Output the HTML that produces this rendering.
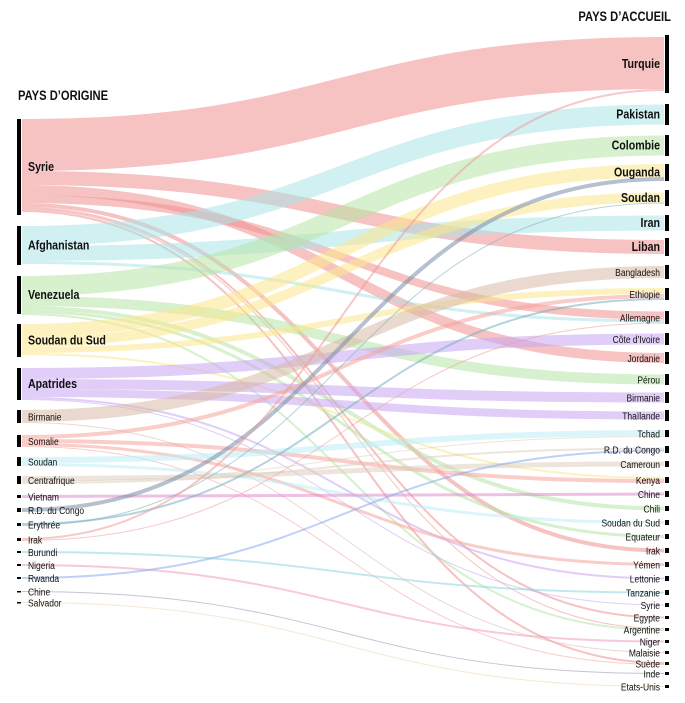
<!DOCTYPE html>
<html><head><meta charset="utf-8"><style>
body{margin:0;background:#fff;width:685px;height:698px;overflow:hidden}
svg text{font-family:"Liberation Sans Narrow","Liberation Sans",sans-serif;fill:#111}
</style></head><body>
<svg id="s" width="685" height="698" xmlns="http://www.w3.org/2000/svg">
<g id="links"></g><g id="nodes"></g>
<text transform="translate(18,100) scale(0.8,1)" font-size="14" font-weight="bold">PAYS D’ORIGINE</text>
<text transform="translate(671,21) scale(0.8,1)" font-size="14" font-weight="bold" text-anchor="end">PAYS D’ACCUEIL</text>
</svg>
<script>
const L={Syrie:[119,215,'#ef8f8f',1],Afghanistan:[226,265,'#a9e3e8',1],Venezuela:[276,314,'#b6e4a6',1],'Soudan du Sud':[324,357,'#fbe88a',1],Apatrides:[368,400,'#c9a6f2',1],Birmanie:[410,423,'#d8b9a6',0],Somalie:[435,447,'#f6a49c',0],Soudan:[457,466,'#bdeef5',0],Centrafrique:[476,484,'#dfcfbd',0],Vietnam:[495,498,'#de8cce',0],'R.D. du Congo':[508,512,'#7c8ca8',0],'Erythrée':[523,526,'#7aaebf',0],Irak:[538,541,'#f09a9a',0],Burundi:[551,553,'#8fd6e0',0],Nigeria:[564,566,'#f19dbd',0],Rwanda:[577,579,'#86aaf0',0],Chine:[591,592,'#9f90b0',0],Salvador:[602,603,'#efd6ae',0]};
const R={Turquie:[35,93,1],Pakistan:[104,125,1],Colombie:[135,156,1],Ouganda:[164,181,1],Soudan:[190,206,1],Iran:[215,231,1],Liban:[238,256,1],Bangladesh:[265,279],'Ethiopie':[288,300],Allemagne:[311,324],"Côte d'Ivoire":[333,345],Jordanie:[352,364],'Pérou':[374,385],Birmanie:[392,403],'Thaïlande':[410,421],Tchad:[430,437],'R.D. du Congo':[446,453],Cameroun:[461,467],Kenya:[477,483],Chine:[491,497],Chili:[506,511],'Soudan du Sud':[520,525],Equateur:[534,539],Irak:[548,553],'Yémen':[562,567],Lettonie:[576,581],Tanzanie:[590,595],Syrie:[603,607],Egypte:[616,619],Argentine:[628,631],Niger:[640,643],Malaisie:[651,654],'Suède':[662,665],Inde:[672,675],'Etats-Unis':[685,688]};
const links=[
['Syrie','Turquie',52],['Syrie','Liban',14],['Syrie','Jordanie',10],['Syrie','Allemagne',8],['Syrie','Irak',4],['Syrie','Egypte',2],['Syrie','Argentine',1],['Syrie','Suède',2],
['Afghanistan','Pakistan',20],['Afghanistan','Iran',15],['Afghanistan','Allemagne',3],
['Venezuela','Colombie',20],['Venezuela','Pérou',10],['Venezuela','Chili',4],['Venezuela','Equateur',3],['Venezuela','Argentine',2],
['Soudan du Sud','Ouganda',13],['Soudan du Sud','Soudan',10],['Soudan du Sud','Ethiopie',6],['Soudan du Sud','Kenya',2],
['Apatrides',"Côte d'Ivoire",11],['Apatrides','Birmanie',10],['Apatrides','Thaïlande',8],['Apatrides','Lettonie',2],['Apatrides','Syrie',1],
['Birmanie','Bangladesh',12],['Birmanie','Malaisie',1],
['Somalie','Ethiopie',4],['Somalie','Kenya',4],['Somalie','Yémen',3],['Somalie','Suède',1],
['Soudan','Tchad',6],['Soudan','Soudan du Sud',3],
['Centrafrique','Cameroun',5],['Centrafrique','Tchad',1],['Centrafrique','R.D. du Congo',2],
['Vietnam','Chine',3],['R.D. du Congo','Ouganda',4],['Erythrée','Ethiopie',2],['Erythrée','Soudan',1],
['Irak','Turquie',2],['Irak','Allemagne',1],['Burundi','Tanzanie',2],['Nigeria','Niger',2],['Rwanda','R.D. du Congo',2],['Chine','Inde',1],['Salvador','Etats-Unis',1]];
const so={},to={};
for(const k in L)so[k]=L[k][0];
const tin={};links.forEach(l=>tin[l[1]]=(tin[l[1]]||0)+l[2]);
for(const k in R){const h=R[k][1]-R[k][0];to[k]=R[k][0]+Math.max(0,(h-(tin[k]||0))/2);}
let g='';
links.forEach(([s,t,w])=>{const y0=so[s]+w/2;so[s]+=w;const y1=to[t]+w/2;to[t]+=w;
g+=`<path d="M22,${y0} C343,${y0} 343,${y1} 664,${y1}" fill="none" stroke="${L[s][2]}" stroke-width="${w}" stroke-opacity="0.55"/>`;});
document.getElementById('links').innerHTML=g;
let n='';
for(const k in L){const [a,b,,big]=L[k];const h=Math.max(1.5,b-a);n+=`<rect x="17" y="${a}" width="4" height="${h}" fill="#000"/>`;
n+=`<text transform="translate(28,${(a+b)/2+4}) scale(0.85,1)" font-size="${big?12.5:10}" ${big?'font-weight="bold"':''}>${k}</text>`;}
for(const k in R){const [a,b,big]=R[k];const h=Math.max(1.5,b-a);n+=`<rect x="665" y="${a}" width="4" height="${h}" fill="#000"/>`;
n+=`<text transform="translate(660,${(a+b)/2+4}) scale(0.85,1)" font-size="${big?12.5:10}" ${big?'font-weight="bold"':''} text-anchor="end">${k}</text>`;}
document.getElementById('nodes').innerHTML=n;
</script>
</body></html>
